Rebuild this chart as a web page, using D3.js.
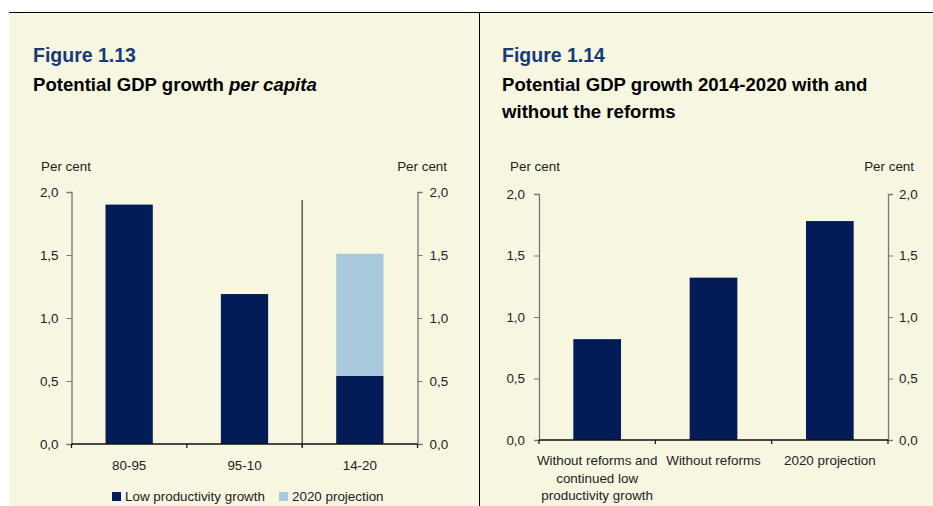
<!DOCTYPE html>
<html><head><meta charset="utf-8">
<script src="https://cdnjs.cloudflare.com/ajax/libs/d3/7.8.5/d3.min.js"></script>
<style>
html,body{margin:0;padding:0;background:#fff;}
svg{display:block;}
text{font-family:"Liberation Sans",Arial,sans-serif;}
</style></head>
<body>
<svg id="c" width="933" height="506"></svg>
<script>
// ---- Data ----
const leftCategories = ["80-95", "95-10", "14-20"];
const leftLowProd = [1.90, 1.19, 0.54];
const leftProjection = [0, 0, 0.97];
const rightCategories = [
  ["Without reforms and", "continued low", "productivity growth"],
  ["Without reforms"],
  ["2020 projection"]
];
const rightValues = [0.82, 1.32, 1.78];
const yTicks = [0, 0.5, 1.0, 1.5, 2.0];
const legendLabels = ["Low productivity growth", "2020 projection"];

const NAVY = "#031c58", LIGHT = "#a9cadc", BG = "#f7f7e1";
const FS = 13.4;
const svg = d3.select("#c");
const fmt = v => d3.format(".1f")(v).replace(".", ",");

// background
svg.append("rect").attr("x", 9).attr("y", 12).attr("width", 924).attr("height", 494).attr("fill", BG);
svg.append("line").attr("x1", 9).attr("x2", 933).attr("y1", 12.5).attr("y2", 12.5).attr("stroke", "#000").attr("stroke-width", 1);
svg.append("line").attr("x1", 479.5).attr("x2", 479.5).attr("y1", 12).attr("y2", 506).attr("stroke", "#000").attr("stroke-width", 1);

function titles(x, fig, lines) {
  svg.append("text").attr("x", x).attr("y", 62).attr("fill", "#173a78")
    .attr("font-size", 19.5).attr("font-weight", "bold").text(fig);
  lines.forEach((l, i) => {
    const t = svg.append("text").attr("x", x).attr("y", 91 + i * 27).attr("fill", "#000")
      .attr("font-size", 18.6).attr("font-weight", "bold");
    l.forEach(seg => t.append("tspan").attr("font-style", seg.i ? "italic" : null).text(seg.t));
  });
}
titles(33, "Figure 1.13", [[{t: "Potential GDP growth "}, {t: "per capita", i: true}]]);
titles(502, "Figure 1.14", [[{t: "Potential GDP growth 2014-2020 with and"}], [{t: "without the reforms"}]]);

function frame(x0, x1, yTop, yBot, perLx, perRx, padL, padR) {
  const y = d3.scaleLinear().domain([0, 2]).range([yBot, yTop]);
  const gL = svg.append("g").attr("transform", `translate(${x0},0)`)
    .call(d3.axisLeft(y).tickValues(yTicks).tickFormat(fmt).tickSize(5).tickPadding(padL));
  const gR = svg.append("g").attr("transform", `translate(${x1},0)`)
    .call(d3.axisRight(y).tickValues(yTicks).tickFormat(fmt).tickSize(5).tickPadding(padR));
  [gL, gR].forEach(g => {
    g.select(".domain").attr("stroke", "#777").attr("stroke-width", 1.3);
    g.selectAll(".tick line").attr("stroke", "#777");
    g.selectAll("text").attr("font-size", FS).attr("fill", "#222")
      .attr("font-family", "Liberation Sans, Arial, sans-serif");
  });
  svg.append("text").attr("x", perLx).attr("y", 171).attr("font-size", FS).attr("fill", "#222").text("Per cent");
  svg.append("text").attr("x", perRx).attr("y", 171).attr("font-size", FS).attr("fill", "#222").attr("text-anchor", "end").text("Per cent");
  return y;
}

// ---- Left chart ----
{
  const x0 = 71.5, x1 = 417.5;
  const y = frame(x0, x1, 192, 444, 41, 447, 8, 7);
  const x = d3.scaleBand().domain(leftCategories).range([x0, x1]).paddingInner(0.59).paddingOuter(0.295);
  const g = svg.append("g");
  leftCategories.forEach((c, i) => {
    g.append("rect").attr("x", x(c)).attr("width", x.bandwidth())
      .attr("y", y(leftLowProd[i])).attr("height", y(0) - y(leftLowProd[i])).attr("fill", NAVY);
    if (leftProjection[i] > 0) {
      const top = leftLowProd[i] + leftProjection[i];
      g.append("rect").attr("x", x(c)).attr("width", x.bandwidth())
        .attr("y", y(top)).attr("height", y(leftLowProd[i]) - y(top)).attr("fill", LIGHT);
    }
  });
  // separator
  const step = (x1 - x0) / leftCategories.length;
  svg.append("line").attr("x1", x0 + 2 * step).attr("x2", x0 + 2 * step).attr("y1", 200).attr("y2", 447)
    .attr("stroke", "#333").attr("stroke-width", 1.2);
  // x axis
  const xa = svg.append("g").attr("transform", `translate(0,${y(0)})`);
  xa.append("line").attr("x1", x0).attr("x2", x1).attr("stroke", "#111").attr("stroke-width", 1.5);
  d3.range(leftCategories.length + 1).forEach(k => xa.append("line").attr("x1", x0 + k * step).attr("x2", x0 + k * step)
    .attr("y1", 0).attr("y2", 4).attr("stroke", "#111").attr("stroke-width", 1.2));
  leftCategories.forEach(c => xa.append("text").attr("x", x(c) + x.bandwidth() / 2).attr("y", 26)
    .attr("text-anchor", "middle").attr("font-size", FS).attr("fill", "#222").text(c));
  // legend
  const lg = svg.append("g");
  [[112, NAVY, 125], [279, LIGHT, 292]].forEach((d, i) => {
    lg.append("rect").attr("x", d[0]).attr("y", 492).attr("width", 9).attr("height", 9).attr("fill", d[1]);
    lg.append("text").attr("x", d[2]).attr("y", 501).attr("font-size", FS).attr("fill", "#222").text(legendLabels[i]);
  });
}

// ---- Right chart ----
{
  const x0 = 539, x1 = 888;
  const y = frame(x0, x1, 194, 440, 510, 914, 9, 6);
  const keys = rightCategories.map(d => d.join(" "));
  const x = d3.scaleBand().domain(keys).range([x0, x1]).paddingInner(0.59).paddingOuter(0.295);
  keys.forEach((k, i) => {
    svg.append("rect").attr("x", x(k)).attr("width", x.bandwidth())
      .attr("y", y(rightValues[i])).attr("height", y(0) - y(rightValues[i])).attr("fill", NAVY);
  });
  const step = (x1 - x0) / keys.length;
  const xa = svg.append("g").attr("transform", `translate(0,${y(0)})`);
  xa.append("line").attr("x1", x0).attr("x2", x1).attr("stroke", "#111").attr("stroke-width", 1.5);
  d3.range(keys.length + 1).forEach(k => xa.append("line").attr("x1", x0 + k * step).attr("x2", x0 + k * step)
    .attr("y1", 0).attr("y2", 4).attr("stroke", "#111").attr("stroke-width", 1.2));
  keys.forEach((k, i) => {
    rightCategories[i].forEach((l, j) => xa.append("text").attr("x", x(k) + x.bandwidth() / 2).attr("y", 25 + j * 17.5)
      .attr("text-anchor", "middle").attr("font-size", FS).attr("fill", "#222").text(l));
  });
}
</script>
</body></html>
